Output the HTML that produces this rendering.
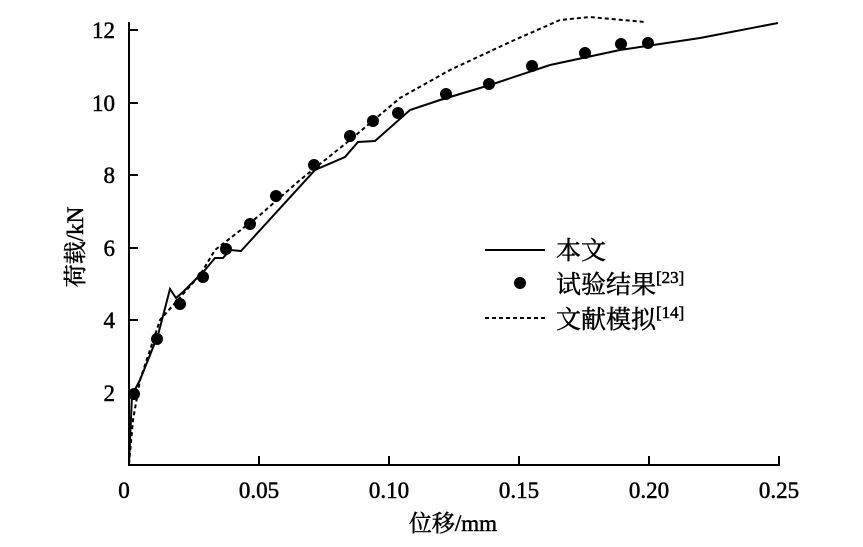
<!DOCTYPE html>
<html><head><meta charset="utf-8"><style>
body{margin:0;background:#fff}
text{font-family:"Liberation Serif","Noto Serif CJK SC",serif;fill:#000;stroke:#000;stroke-width:0.5}
</style></head><body>
<svg width="863" height="542" viewBox="0 0 863 542" xmlns="http://www.w3.org/2000/svg">
<g stroke="#000" stroke-width="2" fill="none">
<line x1="129" y1="22" x2="129" y2="466"/>
<line x1="128" y1="465" x2="780" y2="465"/>
<path d="M259 465v-9M389 465v-9M519 465v-9M649 465v-9M779 465v-9M129 393h9M129 320h9M129 248h9M129 175h9M129 103h9M129 30h9"/>
</g>
<g font-size="23" text-anchor="end">
<text x="115" y="401">2</text><text x="115" y="328">4</text><text x="115" y="256">6</text>
<text x="115" y="183">8</text><text x="115" y="111">10</text><text x="115" y="38">12</text>
</g>
<g font-size="23" text-anchor="middle">
<text x="124" y="498">0</text><text x="259" y="498">0.05</text><text x="389" y="498">0.10</text>
<text x="519" y="498">0.15</text><text x="649" y="498">0.20</text><text x="779" y="498">0.25</text>
<text x="453" y="531">位移/mm</text>
<text transform="translate(83,247) rotate(-90)">荷载/kN</text>
</g>
<polyline fill="none" stroke="#000" stroke-width="2" points="129,464 132,395 140,380 158,335 170,289 176,298 183,292 205,270 215,258 223,258 230,250 241,251 315,170 345,157 358,142 375,141 410,110 440,100 490,85 550,65 620,50 700,38 778,23"/>
<polyline fill="none" stroke="#000" stroke-width="2" stroke-dasharray="4,3" points="129,464 133,420 140,380 160,320 200,275 215,250 260,215 300,180 350,140 400,98 450,70 510,42 560,20 590,17 645,22"/>
<g fill="#000">
<circle cx="134" cy="394" r="6"/><circle cx="157" cy="339" r="6"/><circle cx="180" cy="304" r="6"/><circle cx="203" cy="277" r="6"/><circle cx="226" cy="249" r="6"/><circle cx="250" cy="224" r="6"/><circle cx="276" cy="196" r="6"/><circle cx="314" cy="165" r="6"/><circle cx="350" cy="136" r="6"/><circle cx="373" cy="121" r="6"/><circle cx="398" cy="113" r="6"/><circle cx="446" cy="94" r="6"/><circle cx="489" cy="84" r="6"/><circle cx="532" cy="66" r="6"/><circle cx="585" cy="53" r="6"/><circle cx="621" cy="44" r="6"/><circle cx="648" cy="43" r="6"/>
<circle cx="520" cy="283" r="6"/>
</g>
<line x1="485" y1="250" x2="545" y2="250" stroke="#000" stroke-width="2"/>
<line x1="485" y1="318" x2="545" y2="318" stroke="#000" stroke-width="2" stroke-dasharray="4,3"/>
<g font-size="25">
<text x="556" y="259">本文</text>
<text x="556" y="293">试验结果<tspan font-size="17" dy="-10">[23]</tspan></text>
<text x="556" y="328">文献模拟<tspan font-size="17" dy="-10">[14]</tspan></text>
</g>
</svg>
</body></html>
